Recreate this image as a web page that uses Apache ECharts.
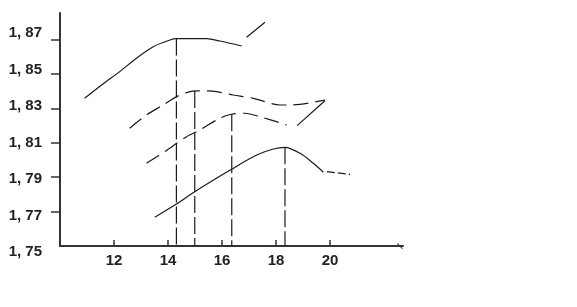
<!DOCTYPE html>
<html>
<head>
<meta charset="utf-8">
<script src="https://cdn.jsdelivr.net/npm/echarts@6/dist/echarts.min.js"></script>
<style>html,body{margin:0;padding:0;background:#fff}#c{width:577px;height:307px}</style>
</head>
<body>
<div id="c"></div>
<script>
// ---- data (x = horizontal value, y = vertical value) ----
var c1X = [10.91, 11.59, 12.21, 12.83, 13.45, 14.07, 14.31, 15.43, 15.92, 16.73];
var c1Y = [1.8359, 1.8442, 1.8514, 1.8592, 1.8659, 1.8698, 1.8706, 1.8706, 1.8692, 1.8663];
var c1bX = [16.91, 17.59];
var c1bY = [1.8714, 1.8801];
var c2X = [12.58, 13.20, 13.82, 14.37, 14.81, 15.06, 15.43, 15.80, 16.41, 17.16, 18.15, 18.52, 19.81];
var c2Y = [1.8185, 1.8262, 1.8320, 1.8373, 1.8398, 1.8402, 1.8402, 1.8398, 1.8378, 1.8359, 1.8320, 1.8320, 1.8348];
var c3X = [13.20, 13.88, 14.69, 15.18, 15.92, 16.35, 16.85, 17.40, 18.39];
var c3Y = [1.7981, 1.8049, 1.8136, 1.8175, 1.8243, 1.8266, 1.8272, 1.8252, 1.8204];
var c3bX = [18.78, 19.81];
var c3bY = [1.8200, 1.8345];
var c4X = [13.51, 14.31, 14.99, 16.35, 17.28, 17.90, 18.33, 18.89, 19.38, 19.75];
var c4Y = [1.7667, 1.7744, 1.7816, 1.7946, 1.8029, 1.8064, 1.8074, 1.8039, 1.7981, 1.7929];
var c4bX = [19.88, 20.74];
var c4bY = [1.7932, 1.7917];
var vX = [14.31, 14.99, 16.36, 18.33];
var vTop = [1.8706, 1.8402, 1.8266, 1.8074];
var yBase = 1.75;
var xTicks = [12, 14, 16, 18, 20];
var yTickLabels = [1.75, 1.77, 1.79, 1.81, 1.83, 1.85, 1.87];

// ---- helpers ----
function u(v) { return Math.round((v - yBase) * 10000) / 100; } // units of 0.01 above base
function pts(xs, ys) { return xs.map(function (x, i) { return [x, u(ys[i])]; }); }
var LC = '#1a1a1a';
function line(data, dashed, smooth) {
  return {
    type: 'line', xAxisIndex: 0, yAxisIndex: 0, data: data, symbol: 'none',
    smooth: smooth === undefined ? 0.3 : smooth, silent: true,
    lineStyle: { color: LC, width: 1.2, type: dashed ? dashed : 'solid' }
  };
}
var series = [
  line(pts(c1X, c1Y), null),
  line(pts(c1bX, c1bY), null, false),
  line(pts(c2X, c2Y), [15, 7]),
  line(pts(c3X, c3Y), [15, 7]),
  line(pts(c3bX, c3bY), null, false),
  line(pts(c4X, c4Y), null),
  line(pts(c4bX, c4bY), [8, 3], false)
];
vX.forEach(function (x, i) {
  series.push(line([[x, u(vTop[i])], [x, u(yBase)]], [17, 4], false));
});

var fontBase = { fontFamily: 'Liberation Sans, Arial, sans-serif', fontWeight: 'bold', fontSize: 15, color: '#222' };
var yUnits = yTickLabels.map(u);

var option = {
  animation: false,
  backgroundColor: '#fff',
  grid: [
    { left: 60, right: 174, top: 13, bottom: 61 },
    { left: 60, right: 174, top: 33, bottom: 55 }
  ],
  xAxis: [
    {
      type: 'value', gridIndex: 0, min: 10, max: 22.7,
      axisLine: { show: true, lineStyle: { color: '#333', width: 2 },
        symbol: ['none', 'path://M9,0 L10,1.5 L1.5,10 L0,9 Z'], symbolSize: [6, 9], symbolOffset: [0, -3] },
      axisTick: { show: true, inside: true, length: 6, customValues: xTicks, lineStyle: { color: '#333', width: 1.5 } },
      axisLabel: Object.assign({ show: true, margin: 7, customValues: xTicks }, fontBase),
      splitLine: { show: false }
    },
    { type: 'value', gridIndex: 1, min: 0, max: 1, show: false }
  ],
  yAxis: [
    {
      type: 'value', gridIndex: 0, min: 0, max: 13.55,
      axisLine: { show: true, lineStyle: { color: '#333', width: 2 } },
      axisTick: { show: true, inside: false, length: 9, customValues: yUnits.slice(1), lineStyle: { color: '#333', width: 1.5 } },
      axisLabel: { show: false },
      splitLine: { show: false }
    },
    {
      type: 'value', gridIndex: 1, min: 0, max: 12,
      axisLine: { show: false }, axisTick: { show: false }, splitLine: { show: false },
      axisLabel: Object.assign({
        show: true, margin: 18, customValues: yUnits,
        formatter: function (v) { return '1, ' + Math.round(75 + v); }
      }, fontBase)
    }
  ],
  series: series
};
echarts.init(document.getElementById('c'), null, { renderer: 'canvas' }).setOption(option);
</script>
</body>
</html>
